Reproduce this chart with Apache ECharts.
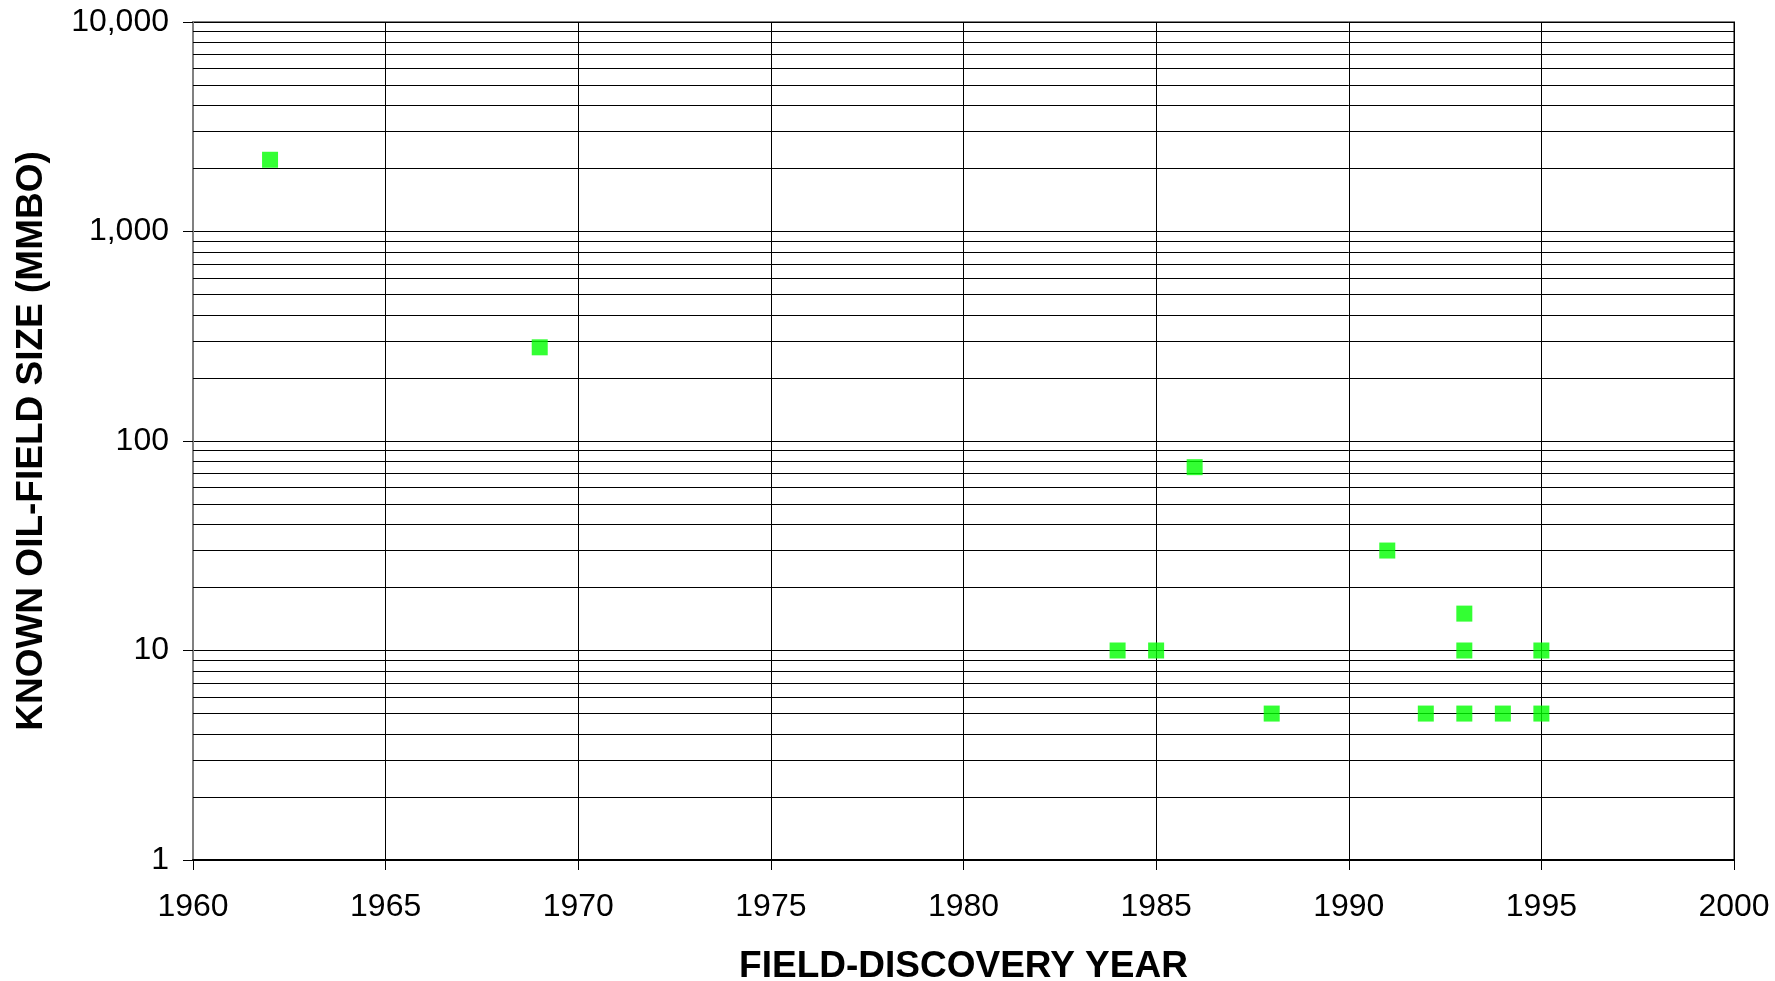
<!DOCTYPE html>
<html lang="en">
  <head>
    <meta charset="UTF-8" />
    <title>Oil field size vs discovery year</title>
    <script src="https://cdn.jsdelivr.net/npm/echarts@6/dist/echarts.min.js"></script>
  </head>
  <body style="margin: 0; background: #fff">
    <div id="main" style="height: 981px; width: 1775px"></div>
  </body>
</html>
<script>
  // discovery year / known size (MMBO)
  var years = [1962, 1969, 1984, 1985, 1986, 1988, 1991, 1992, 1993, 1993, 1993, 1994, 1995, 1995]
  var sizes = [2200, 280, 10, 10, 75, 5, 30, 5, 15, 10, 5, 5, 10, 5]

  var yearTicks = [1960, 1965, 1970, 1975, 1980, 1985, 1990, 1995, 2000]
  var decades = [1, 10, 100, 1000]
  var minorSteps = [2, 3, 4, 5, 6, 7, 8, 9]

  const points = years.map((y, i) => [y, sizes[i]])

  // log gridlines 2..9 within each decade
  const minorLines = []
  decades.forEach((d) => {
    minorSteps.forEach((m) => {
      minorLines.push({ yAxis: d * m })
    })
  })

  const chartInstance = echarts.init(document.getElementById('main'))

  const font = 'Liberation Sans, Arial, sans-serif'

  const option = {
    animation: false,
    grid: {
      left: 193,
      right: 41,
      top: 22,
      bottom: 121,
      outerBoundsMode: 'none',
      containLabel: false,
      show: true,
      borderColor: '#808080',
      borderWidth: 2
    },
    xAxis: {
      type: 'value',
      min: yearTicks[0],
      max: yearTicks[yearTicks.length - 1],
      interval: 5,
      name: 'FIELD-DISCOVERY YEAR',
      nameLocation: 'middle',
      nameGap: 88,
      nameTextStyle: { fontFamily: font, fontWeight: 'bold', fontSize: 37, color: '#000' },
      axisLine: { lineStyle: { color: '#000', width: 2 } },
      axisTick: { show: true, length: 10, lineStyle: { color: '#000' } },
      axisLabel: {
        fontFamily: font,
        fontSize: 32,
        color: '#000',
        margin: 31,
        formatter: (v) => String(v)
      },
      splitLine: { show: true, lineStyle: { color: '#000', width: 1 } }
    },
    yAxis: {
      type: 'log',
      logBase: 10,
      min: 1,
      max: 10000,
      name: 'KNOWN OIL-FIELD SIZE (MMBO)',
      nameLocation: 'middle',
      nameGap: 143,
      nameTextStyle: { fontFamily: font, fontWeight: 'bold', fontSize: 37, color: '#000' },
      axisLine: { show: true, lineStyle: { color: '#808080', width: 2 } },
      axisTick: { show: true, length: 10, lineStyle: { color: '#000' } },
      axisLabel: {
        fontFamily: font,
        fontSize: 32,
        color: '#000',
        margin: 24,
        formatter: (v) => v.toLocaleString('en-US')
      },
      splitLine: { show: true, lineStyle: { color: '#000', width: 1 } }
    },
    series: [
      {
        type: 'scatter',
        data: points,
        symbol: 'rect',
        symbolSize: 16,
        itemStyle: { color: '#00ff00' },
        z: 5,
        markLine: {
          silent: true,
          symbol: 'none',
          label: { show: false },
          lineStyle: { color: '#000', width: 1, type: 'solid' },
          data: minorLines,
          animation: false
        }
      }
    ]
  }

  chartInstance.setOption(option)

  window.addEventListener('resize', () => {
    chartInstance.resize()
  })
</script>
